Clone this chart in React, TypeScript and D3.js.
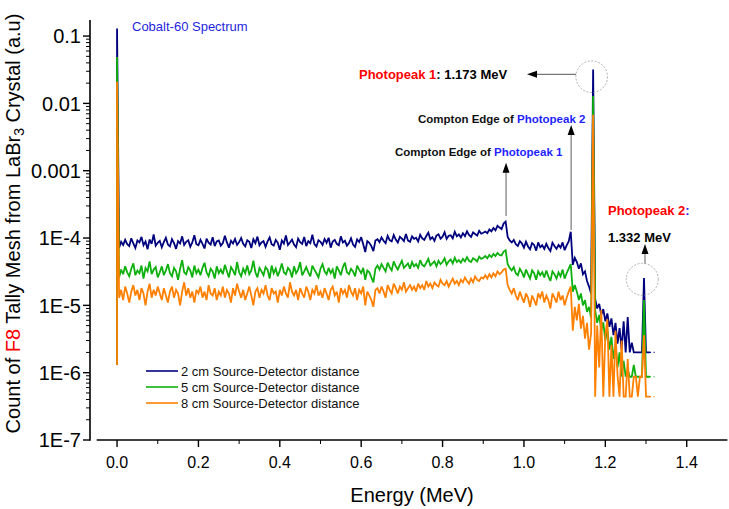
import React from "react";
import * as d3 from "d3";

// ---- DATA (counts in units of 1e-5) ----
// Channel width of the tally (MeV). Element 0 is the spike base at E=0, element 1 the spike top at E=0,
// element k>=2 lies at (k-1)*E_STEP.
const E_STEP = 0.005;
const UNIT = 1e-5;

const seriesNames = [
  "2 cm Source-Detector distance",
  "5 cm Source-Detector distance",
  "8 cm Source-Detector distance",
];
const seriesColors = ["#00007f", "#0eb00e", "#ff8000"];

const blue2cm = [
  0.13, 13000,
  7.2, 8.8, 7.9, 9.4, 8.1, 7.6, 9.9, 8.3, 7.1, 9.2,
  8.6, 10.4, 7.8, 8.9, 6.8, 9.5, 8.2, 11.3, 7.7, 8.5,
  9.1, 7.3, 8.7, 10.1, 8.0, 7.5, 9.6, 8.4, 6.9, 9.0,
  8.3, 10.6, 7.9, 8.8, 9.3, 7.4, 8.6, 11.0, 8.1, 7.8,
  9.4, 8.2, 7.0, 9.8, 8.5, 8.0, 10.3, 7.6, 8.9, 9.2,
  7.7, 8.4, 10.8, 8.6, 7.2, 9.1, 8.3, 9.7, 7.9, 8.7,
  10.0, 8.2, 7.5, 9.3, 8.8, 7.1, 9.6, 8.4, 10.5, 7.8,
  8.6, 9.0, 7.4, 8.9, 10.2, 8.1, 7.7, 9.4, 8.5, 6.7,
  9.2, 8.3, 10.9, 7.9, 8.6, 9.5, 8.0, 7.3, 9.8, 8.7,
  8.2, 10.4, 7.6, 9.0, 8.4, 11.2, 8.1, 7.5, 9.3, 8.8,
  7.9, 9.7, 8.5, 10.1, 7.2, 8.9, 9.4, 8.2, 7.8, 10.6,
  8.6, 9.1, 7.7, 8.4, 9.9, 8.0, 7.4, 9.5, 8.7, 10.3,
  8.1, 6.2, 9.0, 8.5, 7.6, 6.4, 9.2,
  9.6, 8.7, 10.2, 9.1, 8.4, 10.8, 9.3, 8.9, 11.1, 9.5,
  8.6, 10.4, 9.8, 9.0, 11.5, 9.2, 8.8, 10.6, 9.7, 10.1,
  8.9, 11.2, 9.9, 9.4, 10.7, 12.0, 9.6, 10.3, 9.1, 10.9,
  11.4, 9.8, 10.5, 12.2, 9.7, 10.8, 11.0, 9.9, 12.4, 10.6,
  11.3, 10.2, 11.8, 10.7, 12.6, 11.1, 10.4, 12.1, 11.5, 10.9,
  12.8, 11.6, 12.0,
  12.5, 11.8, 13.4, 12.6, 14.1, 13.0, 15.2, 14.3, 13.6, 16.4, 17.5,
  10.4, 9.2, 8.6, 9.4, 8.1, 7.6, 9.0, 8.3, 7.2, 8.8, 7.5, 6.8, 8.4, 7.9, 6.5, 8.6,
  7.3, 7.8, 6.9, 8.2, 7.1, 6.4, 8.5, 7.6, 6.9, 7.9, 7.2, 8.6, 6.6, 7.8, 8.9,
  12.4,
  4.0, 5.1, 4.4, 3.5, 4.2, 2.9, 3.2, 2.3, 1.9, 1.5,
  3200,
  1.25, 0.9, 1.05, 0.72, 0.88, 0.58, 0.76, 0.48, 0.64, 0.36, 0.55, 0.27,
  0.46, 0.22, 0.58, 0.2, 0.67, 0.2, 0.28, 0.2, 0.2, 0.2, 0.2, 0.2,
  2.55,
  0.2, 0.2, 0.2,
];

const green5cm = [
  0.13, 4900,
  2.6, 3.4, 2.9, 3.8, 3.1, 2.7, 3.5, 4.2, 2.8, 3.3,
  3.0, 3.9, 2.5, 3.6, 3.2, 4.5, 2.9, 3.4, 3.7, 2.6,
  3.1, 3.8, 2.8, 3.3, 4.1, 3.0, 2.7, 3.6, 3.2, 2.4,
  3.5, 4.7, 3.1, 2.9, 3.7, 3.3, 2.6, 3.9, 3.0, 3.4,
  2.8, 3.6, 4.3, 3.1, 2.7, 3.5, 3.2, 2.5, 3.8, 3.0,
  3.4, 2.9, 4.0, 3.2, 2.6, 3.7, 3.3, 2.8, 4.4, 3.1,
  2.7, 3.5, 3.0, 3.9, 2.9, 3.3, 4.6, 3.1, 2.6, 3.6,
  3.2, 2.8, 3.7, 3.4, 2.5, 3.9, 3.0, 3.5, 2.7, 3.3,
  4.2, 3.1, 2.9, 3.6, 3.3, 2.6, 3.8, 3.0, 3.4, 4.4,
  2.8, 3.2, 3.7, 3.1, 2.7, 3.9, 3.4, 3.0, 2.6, 3.5,
  4.1, 3.2, 2.9, 3.6, 3.0, 3.4, 2.5, 3.8, 3.3, 2.8,
  3.7, 4.3, 3.1, 2.9, 3.5, 3.2, 2.7, 3.9, 3.4, 3.0,
  3.6, 2.4, 3.3, 3.1, 2.6, 2.2, 3.5,
  3.9, 3.4, 4.1, 3.6, 3.2, 4.3, 3.7, 3.3, 4.5, 3.8,
  3.4, 4.0, 4.6, 3.6, 3.9, 4.2, 3.5, 4.4, 3.8, 4.1,
  3.6, 4.7, 4.0, 3.8, 4.3, 4.9, 3.9, 4.2, 4.5, 3.8,
  4.6, 4.1, 4.4, 5.0, 4.0, 4.5, 4.8, 4.2, 5.1, 4.4,
  4.7, 4.3, 4.9, 4.5, 5.2, 4.6, 4.4, 5.0, 4.8, 4.5,
  5.3, 4.9, 5.1,
  5.4, 5.0, 5.6, 5.2, 5.8, 5.4, 6.0, 5.6, 5.5, 6.3, 6.6,
  4.1, 3.6, 3.3, 3.7, 3.0, 2.8, 3.5, 3.1, 2.6, 3.4, 2.9, 2.5, 3.3, 3.0, 2.4, 3.2,
  2.8, 3.1, 2.6, 3.3, 2.7, 2.3, 3.2, 2.9, 2.5, 3.1, 2.7, 3.4, 2.5, 3.0, 3.5,
  4.1,
  1.6, 2.0, 1.6, 1.2, 1.5, 1.0, 1.2, 0.8, 0.95, 0.65,
  1290,
  0.85, 0.55, 0.72, 0.42, 0.56, 0.3, 0.45, 0.22, 0.34, 0.16, 0.26, 0.12,
  0.2, 0.087, 0.15, 0.087, 0.11, 0.087, 0.087, 0.13, 0.087, 0.087, 0.087, 0.087,
  1.2,
  0.087, 0.087, 0.087,
];

const orange8cm = [
  0.13, 2100,
  1.3, 1.7, 1.2, 1.9, 1.5, 1.1, 1.6, 2.0, 1.4, 1.7,
  1.2, 1.8, 1.5, 1.0, 1.6, 2.1, 1.3, 1.7, 1.4, 1.9,
  1.5, 1.2, 1.8, 1.4, 1.1, 1.6, 1.9, 1.3, 1.7, 1.5,
  1.0, 1.6, 2.2, 1.4, 1.8, 1.3, 1.6, 1.1, 1.7, 1.5,
  1.9, 1.3, 1.6, 1.2, 2.0, 1.5, 1.4, 1.8, 1.2, 1.6,
  1.4, 1.9, 1.3, 1.7, 1.5, 1.1, 1.8, 1.4, 2.1, 1.6,
  1.3, 1.7, 1.2, 1.5, 1.9, 1.4, 1.0, 1.6, 1.8, 1.3,
  1.7, 1.5, 2.0, 1.4, 1.2, 1.8, 1.5, 1.6, 1.1, 1.7,
  1.4, 1.9, 1.5, 1.3, 2.2, 1.6, 1.4, 1.7, 1.2, 1.8,
  1.5, 1.3, 1.9, 1.6, 1.2, 1.7, 1.5, 2.0, 1.4, 1.6,
  1.3, 1.8, 1.5, 1.2, 1.7, 1.9, 1.4, 1.6, 1.1, 1.8,
  1.5, 1.7, 1.3, 2.0, 1.6, 1.4, 1.8, 1.2, 1.7, 1.5,
  1.9, 1.0, 1.6, 1.4, 1.2, 0.95, 1.7,
  1.8, 1.5, 1.9, 1.6, 1.3, 2.0, 1.7, 1.5, 2.1, 1.8,
  1.5, 1.9, 1.7, 2.2, 1.6, 1.8, 2.0, 1.7, 1.9, 1.6,
  2.1, 1.8, 2.0, 1.7, 2.3, 1.9, 2.1, 1.8, 2.2, 2.0,
  1.9, 2.4, 2.1, 2.0, 2.3, 1.9, 2.2, 2.5, 2.1, 2.3,
  2.0, 2.4, 2.2, 2.6, 2.3, 2.1, 2.5, 2.2, 2.7, 2.4,
  2.3, 2.6, 2.5,
  2.8, 2.5, 2.9, 2.6, 3.0, 2.7, 3.2, 2.9, 3.1, 3.4, 3.5,
  2.0, 1.7, 1.5, 1.8, 1.4, 1.2, 1.6, 1.3, 1.1, 1.5, 1.3, 0.95, 1.4, 1.2, 1.0, 1.5,
  1.3, 1.6, 1.1, 1.4, 1.2, 0.9, 1.5, 1.3, 1.1, 1.6, 1.2, 1.4, 1.0, 1.3, 1.6,
  1.9,
  0.42, 0.95, 0.6, 1.05, 0.45, 0.7, 0.32, 0.55, 0.22, 0.38,
  680,
  0.044, 0.5, 0.12, 0.85, 0.044, 0.36, 0.62, 0.044, 0.26, 0.044, 0.42, 0.09,
  0.044, 0.3, 0.044, 0.044, 0.16, 0.044, 0.044, 0.087, 0.087, 0.044, 0.087, 0.087,
  0.36,
  0.044, 0.044, 0.044,
];

const seriesValues = [blue2cm, green5cm, orange8cm];
const TAIL_END = 1.322; // dotted continuation of the last channel value

const xMajorTicks = [0, 0.2, 0.4, 0.6, 0.8, 1.0, 1.2, 1.4];
const xMinorTicks = [0.1, 0.3, 0.5, 0.7, 0.9, 1.1, 1.3];
const yMajorTicks = [1e-7, 1e-6, 1e-5, 1e-4, 1e-3, 1e-2, 1e-1];
const yMajorLabels = ["1E-7", "1E-6", "1E-5", "1E-4", "0.001", "0.01", "0.1"];

const FONT = "'Liberation Sans', Arial, Helvetica, sans-serif";

const energyOf = (k: number) => (k === 0 ? 0 : (k - 1) * E_STEP);

export default function App() {
  const x = d3.scaleLinear().domain([-0.05, 1.5]).range([96.7, 727.4]);
  const y = d3.scaleLog().domain([1e-7, 0.1733]).range([440, 20]);

  const line = d3
    .line<number>()
    .x((_, k) => x(energyOf(k)))
    .y((v) => y(v * UNIT));

  const yMinor: number[] = [];
  for (let d = -7; d <= -1; d++) {
    for (let m = 2; m <= 9; m++) {
      const v = m * Math.pow(10, d);
      if (v < 0.1733) yMinor.push(v);
    }
  }

  const arrowUp = (ax: number, tipY: number, fromY: number) => (
    <g>
      <line x1={ax} x2={ax} y1={fromY} y2={tipY + 8} stroke="#777" strokeWidth={1.2} />
      <polygon points={`${ax},${tipY} ${ax - 3.5},${tipY + 10} ${ax + 3.5},${tipY + 10}`} fill="#000" />
    </g>
  );

  return (
    <svg
      width={729}
      height={509}
      style={{ position: "absolute", left: 0, top: 0, background: "#fff" }}
      fontFamily={FONT}
    >
      <rect width={729} height={509} fill="#fff" />

      {/* spectra */}
      {seriesValues.map((vals, i) => (
        <g key={i}>
          <path d={line(vals) || ""} fill="none" stroke={seriesColors[i]} strokeWidth={1.8} strokeLinejoin="miter" strokeMiterlimit={3} />
          <line
            x1={x(energyOf(vals.length - 1))}
            x2={x(TAIL_END)}
            y1={y(vals[vals.length - 1] * UNIT)}
            y2={y(vals[vals.length - 1] * UNIT)}
            stroke={seriesColors[i]}
            strokeWidth={1.2}
            strokeDasharray="1,2.5"
          />
        </g>
      ))}

      {/* axes */}
      <line x1={90} x2={90} y1={20} y2={440.8} stroke="#000" strokeWidth={1.6} />
      <line x1={96.7} x2={727.4} y1={440} y2={440} stroke="#000" strokeWidth={1.6} />
      {yMajorTicks.map((t, i) => (
        <g key={"ym" + i}>
          <line x1={83} x2={90} y1={y(t)} y2={y(t)} stroke="#000" strokeWidth={1.4} />
          <text x={81} y={y(t)} dy="0.36em" textAnchor="end" fontSize={20} fill="#000">
            {yMajorLabels[i]}
          </text>
        </g>
      ))}
      {yMinor.map((t, i) => (
        <line key={"yn" + i} x1={86} x2={90} y1={y(t)} y2={y(t)} stroke="#000" strokeWidth={1} />
      ))}
      {xMajorTicks.map((t, i) => (
        <g key={"xm" + i}>
          <line x1={x(t)} x2={x(t)} y1={440} y2={447} stroke="#000" strokeWidth={1.4} />
          <text x={x(t)} y={468} textAnchor="middle" fontSize={16} fill="#000">
            {t.toFixed(1)}
          </text>
        </g>
      ))}
      {xMinorTicks.map((t, i) => (
        <line key={"xn" + i} x1={x(t)} x2={x(t)} y1={440} y2={444} stroke="#000" strokeWidth={1} />
      ))}

      {/* axis titles */}
      <text x={412} y={502} textAnchor="middle" fontSize={20} fill="#000">
        Energy (MeV)
      </text>
      <text transform="translate(20,223.5) rotate(-90)" textAnchor="middle" fontSize={20} fill="#000">
        <tspan>Count of </tspan>
        <tspan fill="#ff0000">F8</tspan>
        <tspan> Tally Mesh from LaBr</tspan>
        <tspan fontSize={14} dy={4}>3</tspan>
        <tspan dy={-4}> Crystal (a.u)</tspan>
      </text>

      {/* title */}
      <text x={132} y={31} fontSize={13} fill="#1f1fdd">
        Cobalt-60 Spectrum
      </text>

      {/* legend */}
      {seriesNames.map((n, i) => (
        <g key={"lg" + i}>
          <line x1={146} x2={178} y1={371 + i * 16} y2={371 + i * 16} stroke={seriesColors[i]} strokeWidth={1.6} />
          <text x={181} y={371 + i * 16} dy="0.36em" fontSize={13} fill="#111">
            {n}
          </text>
        </g>
      ))}

      {/* Photopeak 1 annotation */}
      <circle cx={591.7} cy={76.7} r={15.8} fill="none" stroke="#9a9a9a" strokeWidth={0.8} strokeDasharray="2,1.5" />
      <line x1={576} x2={535} y1={74.3} y2={74.3} stroke="#777" strokeWidth={1.2} />
      <polygon points={`527,74.3 537,70.8 537,77.8`} fill="#000" />
      <text x={359} y={79} fontSize={13} fontWeight="bold" fill="#000">
        <tspan fill="#ff0000">Photopeak 1</tspan>
        <tspan>: 1.173 MeV</tspan>
      </text>

      {/* Compton edges */}
      <text x={418} y={123} fontSize={11.5} fontWeight="bold" fill="#111">
        <tspan>Compton Edge of </tspan>
        <tspan fill="#1f1fff">Photopeak 2</tspan>
      </text>
      {arrowUp(x(1.116), 125, 230)}
      <text x={395} y={156} fontSize={11.5} fontWeight="bold" fill="#111">
        <tspan>Compton Edge of </tspan>
        <tspan fill="#1f1fff">Photopeak 1</tspan>
      </text>
      {arrowUp(x(0.956), 162.7, 216)}

      {/* Photopeak 2 annotation */}
      <text x={608} y={215} fontSize={13} fontWeight="bold" fill="#ff0000">
        <tspan>Photopeak 2</tspan>
        <tspan fill="#1f1fff">:</tspan>
      </text>
      <text x={608} y={241.7} fontSize={13} fontWeight="bold" fill="#000">
        1.332 MeV
      </text>
      <circle cx={642.3} cy={279.3} r={16} fill="none" stroke="#9a9a9a" strokeWidth={0.8} strokeDasharray="2,1.5" />
      {arrowUp(645, 244, 263.5)}
    </svg>
  );
}
